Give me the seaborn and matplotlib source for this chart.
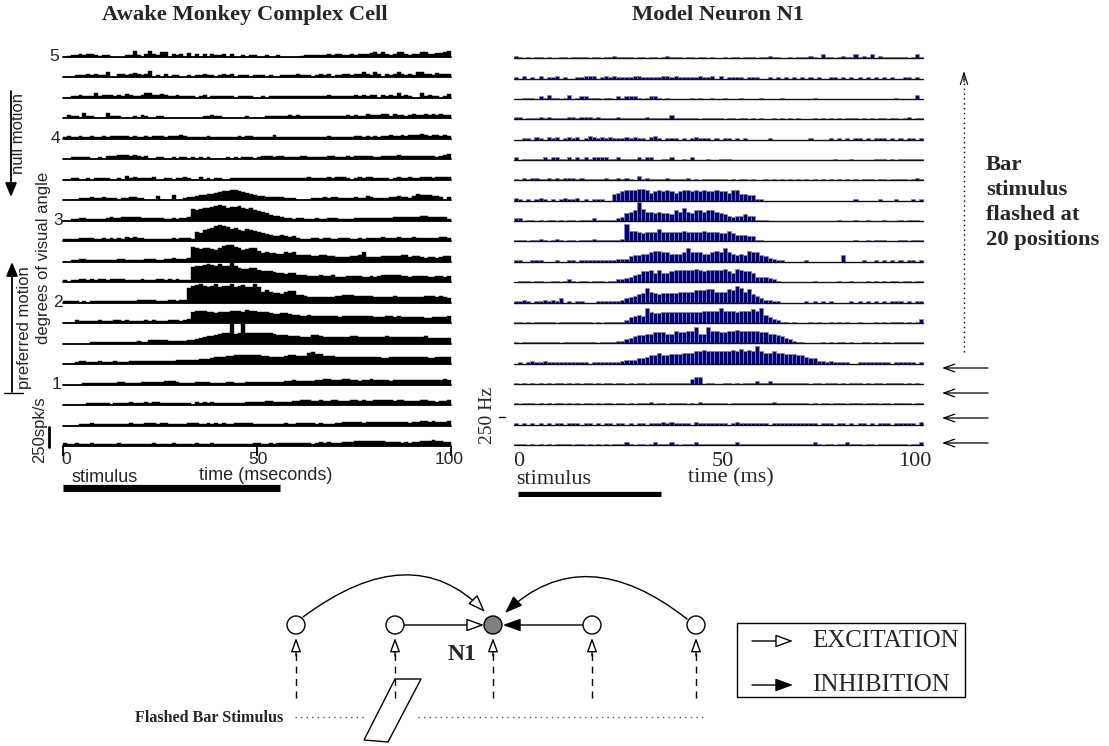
import numpy as np
import pandas as pd
import matplotlib
matplotlib.use("Agg")
import matplotlib.pyplot as plt
import seaborn as sns
from matplotlib.patches import Circle, Polygon, FancyArrowPatch, Rectangle
from matplotlib.path import Path

# ---------------- data (bar heights per 1 ms bin, base-36 digits) -------------
# Awake monkey complex cell, 20 bar positions (top = position 5 deg, bottom = 0 deg)
monkey_rows = [
    "0122323321 2200002262 0363255032 3040303032 2303002022 0020020000 0122222232 3322323334 5353235532 3355334456",
    "0002223232 2500332343 2360203022 0020223220 2323022202 2202002222 3222023230 2233233532 5303235323 2553324333",
    "0022322252 3332324322 3553343223 2222023022 2222022220 0202222222 2222222232 2222232323 3032325232 0052322024",
    "0322052200 0522200020 3200220000 0000002232 2000000200 0022222232 3222222222 2223232243 3344243323 4334343433",
    "2322322322 3233333232 2323332333 4322222322 2222232332 2222422222 2222222232 2222233232 3233433434 4454344343",
    "0022222002 0333444343 2300220020 2202020200 0020202220 2333233222 2332222233 2223233333 2233334333 3333332345",
    "0022002022 2200204232 2223002202 2320030202 2002222222 2222222222 2223222232 3332023233 2222023223 2233323333",
    "0000222322 3222022332 2000400050 0233455667 899aa98765 4433333222 0000222323 3222232243 2222334332 4655544303",
    "0022332222 2343344444 3333332232 334cbcddef gfdeefdcdb a986554332 3322232233 3222233333 3333344444 4455444442",
    "2222333322 3232324343 3222222232 333298bcdf gfecdbacba 9876556545 3222332332 2333223233 3343334333 4333333443",
    "0022332222 2222332222 2333223343 334fedeedc eghhfecdee b9a9988a9a 7777667766 5555667a55 5566666775 6654554566",
    "2022332323 3233332222 3222332323 222fgghihg iggjgeddee cbbba99899 7776667667 5556666556 5677777665 6666556656",
    "2222020222 2222222223 3333222332 33fhijhghj ghhjghiggj gbdbaa9bcc 8876666666 7788877777 6666676666 6667776765",
    "0003222223 2223323222 2323222333 234bcccbba bbbcccbdcc bbba99aa98 8778777777 7677777777 6667767666 6665566667",
    "0000000222 2222222223 2244444333 3344567889 abbkabkbbb bbbba99988 8777998777 7777887777 7778777777 7778666666",
    "0002332223 2223222333 3333333334 4444455567 7788999999 9887777899 888bcaa888 7777777777 7766777777 7777667777",
    "0000022222 2222332222 3333334443 2222333322 2233222333 3333333445 4444455665 5566554556 5555455555 5555555565",
    "0000002222 2202222322 2323322222 2220323232 2222222333 3344333334 4555445445 5444554544 5555545544 4455443445",
    "0000222322 2222222322 2333233222 2233322323 2322333332 2222222322 3333323222 3344444344 4444444443 4455454445",
    "3223222322 2222322222 2223222232 2222322232 2222222223 3223233333 3333234343 3344455555 5554444343 4455565544",
]

# Model neuron N1, 20 bar positions
model_rows = [
    "2101011010 0110111101 1011211110 1101101211 1011011010 0101101110 1121100101 1121031101 2113121302 1111110131",
    "1020102011 2010011222 0121211112 2111112212 1111121120 2011110111 0010101010 1010100110 1010101010 1010011010",
    "0011102131 1013012211 1011021222 1012210100 0001010010 0100010000 1000010000 0001000000 0000000000 0001000030",
    "2201112121 1112212221 2111121111 1121111131 1111101111 1011011010 1001010101 0001010101 0111010101 1011012011",
    "0011021021 2012120132 1212111212 1102310111 0101211101 0110101000 0010000000 0010000101 0101101011 1010101101",
    "2011111212 2112121212 2221121111 2122001120 0102000100 1110000000 0000000000 0000000010 0010000011 1010111111",
    "1021221121 2122212111 1121121210 3121111211 1120101111 1101011010 0101010101 0101010101 0101011101 1011110121",
    "2101012101 0121120101 1100567888 9986787876 7887878778 7768855441 1000000000 0000000000 0001000001 0001000101",
    "2201101011 0101101112 1111123678 e977676658 7a76887887 6543445441 1100000000 0000000001 0001001000 1000101110",
    "1110112101 2101101112 1111112d88 7677797777 7877778777 6686555441 1000000000 0000000000 0001001011 1000110111",
    "1100111000 1001101111 1111122245 5667887766 67a7776678 7a76565877 5432110000 0100000000 5000010010 1010101101",
    "0111011001 1012101101 1101122345 6889797789 9999a98999 9a87a98874 4432100000 0001000001 0010001010 1011011011",
    "1121011212 1301011000 1111112345 67b8767777 8888999aa8 88a9cb8a65 3221100000 0101010100 0010101010 1011101011",
    "1101011111 0111111110 1011111245 65b8778888 8888889999 b9998999a9 b643211010 0010100101 0100100010 1011101013",
    "1011111111 1011111111 0111122345 6677888779 8899c77c99 8899a99999 8877654321 1000010101 1010011010 1101111111",
    "0101211211 1111111101 1111112333 4456686677 788899a999 999a9b9a9d 9889887776 6544221211 1100111111 1101111101",
    "1010101010 1101010110 1011011010 1101111111 1114550110 0110101112 1121111111 1101101110 1011101011 0111101010",
    "1011101010 1101010110 1011011010 1112011011 1101021111 1101111111 1112111111 1101011011 1011101110 1101111011",
    "1010101010 1101110110 1011011010 1101112121 1110211111 1101211111 1101111111 1111011101 1010110101 1101111102",
    "1110101010 1111011010 1010111210 1101211121 0111211111 1111211111 1111111111 1112101101 1211101101 1111110112",
]

monkey_row_labels = {0: "5", 4: "4", 8: "3", 12: "2", 16: "1"}
time_ticks = [0, 50, 100]
monkey_stimulus_ms = (0, 56)
model_stimulus_ms = (1, 36)


def decode(row):
    return np.array([int(c, 36) for c in "".join(row.split())], dtype=float)


# ---------------- figure ----------------
sns.set_theme(style="white")
plt.rcParams["font.family"] = ["Liberation Sans", "DejaVu Sans"]
SERIF = ["Liberation Serif", "DejaVu Serif"]
SANS = ["Liberation Sans", "DejaVu Sans"]

W, H = 1109, 746
fig = plt.figure(figsize=(W / 100, H / 100), dpi=100)
fig.patch.set_facecolor("white")
bg = fig.add_axes([0, 0, 1, 1])
bg.set_xlim(0, W)
bg.set_ylim(H, 0)
bg.axis("off")


def px_axes(x0, y0, x1, y1):
    ax = fig.add_axes([x0 / W, 1 - y1 / H, (x1 - x0) / W, (y1 - y0) / H])
    ax.set_facecolor("none")
    return ax


def draw_rows(rows, x0, x1, y0, dy, ytop, fill, edge, lw, base_color, base_lw):
    axes = []
    for i, r in enumerate(rows):
        h = decode(r)
        n = len(h)
        width = 100.0 / n
        df = pd.DataFrame({"t": (np.arange(n) + 0.5) * width, "h": h})
        yb = y0 + dy * i
        ax = px_axes(x0, yb - dy, x1, yb)
        sns.histplot(data=df, x="t", weights="h", bins=n, binrange=(0, 100), ax=ax,
                     color=fill, edgecolor=edge, linewidth=lw, alpha=1)
        for p in ax.patches:
            p.set_clip_on(False)
        ax.axhline(0, color=base_color, lw=base_lw, zorder=3, clip_on=False)
        ax.set_xlim(0, 100)
        ax.set_ylim(0, ytop)
        ax.set_xlabel("")
        ax.set_ylabel("")
        ax.set_xticks([])
        ax.set_yticks([])
        for s in ax.spines.values():
            s.set_visible(False)
        axes.append(ax)
    return axes


# Left panel (monkey)
L_X0, L_X1, L_Y0, L_DY = 63, 451, 56.7, 20.5
lax = draw_rows(monkey_rows, L_X0, L_X1, L_Y0, L_DY, L_DY, "black", "black", 0.3, "black", 1.3)
bot = lax[-1]
bot.set_xticks(time_ticks)
bot.tick_params(axis="x", bottom=True, length=7, width=1.3, color="black",
                direction="out", labelbottom=False)

# Right panel (model)
R_X0, R_X1, R_Y0, R_DY = 514, 923, 58.3, 20.35
rax = draw_rows(model_rows, R_X0, R_X1, R_Y0, R_DY, R_DY / 1.35, "#000080", "#8a8aa0", 0.5,
                "#111111", 1.0)

# stimulus bars
sax = px_axes(L_X0, 484, L_X1, 492)
sax.hlines(0.5, *monkey_stimulus_ms, color="black", lw=5.2)
sax2 = px_axes(R_X0, 491, R_X1, 497)
sax2.hlines(0.5, *model_stimulus_ms, color="black", lw=3.8)
for a in (sax, sax2):
    a.set_xlim(0, 100)
    a.set_ylim(0, 1)
    a.axis("off")

# ---------------- texts: left panel ----------------
bg.text(245, 15, "Awake Monkey Complex Cell", family=SERIF, weight="bold", size=16.2,
        ha="center", va="center")
label_right = {0: 59, 4: 60, 8: 63, 12: 63, 16: 61}
for i, lab in monkey_row_labels.items():
    bg.text(label_right[i], L_Y0 + L_DY * i, lab, family=SANS, size=12.5, ha="right", va="center")
for t, x in zip(time_ticks, [66, 258, 449]):
    bg.text(x, 459, str(t), family=SANS, size=12.5, ha="center", va="center")
bg.text(72, 477, "stimulus", family=SANS, size=13, ha="left", va="center")
bg.text(266, 476, "time (mseconds)", family=SANS, size=13, ha="center", va="center")

bg.text(19, 133, "null motion", family=SANS, size=12, rotation=90, ha="center", va="center")
bg.annotate("", xy=(11, 197), xytext=(11, 91),
            arrowprops=dict(arrowstyle="-|>,head_length=0.6,head_width=0.25", lw=1.3,
                            color="black", mutation_scale=14, shrinkA=0, shrinkB=0))
bg.text(44, 258, "degrees of visual angle", family=SANS, size=12, rotation=90,
        ha="center", va="center")
bg.text(25, 328, "preferred motion", family=SANS, size=12, rotation=90, ha="center", va="center")
bg.annotate("", xy=(12, 262), xytext=(12, 392),
            arrowprops=dict(arrowstyle="-|>,head_length=0.6,head_width=0.25", lw=1.3,
                            color="black", mutation_scale=14, shrinkA=0, shrinkB=0))
bg.plot([4, 23], [393, 393], color="black", lw=1.0)
bg.text(40, 430, "250spk/s", family=SANS, size=12, rotation=90, ha="center", va="center")
bg.plot([49, 49], [427, 447], color="black", lw=2.0)

# ---------------- texts: right panel ----------------
bg.text(718, 15, "Model Neuron N1", family=SERIF, weight="bold", size=16.2,
        ha="center", va="center")
for t, x in zip(time_ticks, [519, 723, 915]):
    bg.text(x, 461, str(t), family=SERIF, size=16, ha="center", va="center")
bg.text(516, 480, "stimulus", family=SERIF, size=16, ha="left", va="center")
bg.text(731, 478, "time (ms)", family=SERIF, size=16, ha="center", va="center")
bg.text(488, 415, "250 Hz", family=SERIF, size=14, rotation=90, ha="center", va="center")
bg.plot([499, 505], [417, 417], color="black", lw=1.0)

bg.plot([964, 964], [352, 78], color="black", lw=1.0, ls=(0, (1, 2.5)))
bg.add_patch(FancyArrowPatch((964, 82), (964, 71), arrowstyle="->,head_length=0.7,head_width=0.22",
                             mutation_scale=12, lw=0.8, color="black", shrinkA=0, shrinkB=0))
for k, line in enumerate(["Bar", "stimulus", "flashed at", "20 positions"]):
    bg.text(986, 165 + 25 * k, line, family=SERIF, weight="bold", size=16.2, ha="left", va="center")
for y in [368, 393, 418, 443]:
    bg.add_patch(FancyArrowPatch((988, y), (942, y), arrowstyle="->,head_length=0.7,head_width=0.25",
                                 mutation_scale=11, lw=0.9, color="black", shrinkA=0, shrinkB=0))

# ---------------- bottom circuit diagram ----------------
node_x = [296, 395, 493, 592, 696]
NY = 625
for j, x in enumerate(node_x):
    bg.add_patch(Circle((x, NY), 9, facecolor="#808080" if j == 2 else "white",
                        edgecolor="black", lw=1.0, zorder=4))
    bg.plot([x, x], [698, 652], color="black", lw=1.0, ls=(0, (5, 4)))
    bg.add_patch(FancyArrowPatch((x, 656), (x, 638), arrowstyle="-|>,head_length=0.6,head_width=0.22",
                                 mutation_scale=14, lw=1.0, fc="white", ec="black",
                                 shrinkA=0, shrinkB=0))

exc = dict(arrowstyle="-|>,head_length=0.6,head_width=0.22", mutation_scale=18, lw=1.0,
           fc="white", ec="black", shrinkA=0, shrinkB=0)
inh = dict(arrowstyle="-|>,head_length=0.6,head_width=0.22", mutation_scale=18, lw=1.0,
           fc="black", ec="black", shrinkA=0, shrinkB=0)
bg.add_patch(FancyArrowPatch(path=Path([(303, 617), (412, 536), (485, 612)],
                                       [Path.MOVETO, Path.CURVE3, Path.CURVE3]), **exc))
bg.add_patch(FancyArrowPatch(path=Path([(687, 619), (584, 538), (505, 613)],
                                       [Path.MOVETO, Path.CURVE3, Path.CURVE3]), **inh))
bg.add_patch(FancyArrowPatch((404, NY), (484, NY), **exc))
bg.add_patch(FancyArrowPatch((583, NY), (503, NY), **inh))
bg.text(462, 655, "N1", family=SERIF, weight="bold", size=17, ha="center", va="center")

bg.plot([295, 367], [717, 717], color="#555555", lw=1.0, ls=(0, (1, 3)))
bg.plot([418, 704], [717, 717], color="#555555", lw=1.0, ls=(0, (1, 3)))
bg.add_patch(Polygon([(395, 679), (421, 679), (388, 742), (364, 740)], closed=True,
                     fill=False, ec="black", lw=1.0))
bg.text(135, 718, "Flashed Bar Stimulus", family=SERIF, weight="bold", size=11.6,
        ha="left", va="center")

# legend box
bg.add_patch(Rectangle((737, 623), 228, 74, fill=False, ec="black", lw=1.0))
bg.add_patch(FancyArrowPatch((752, 641), (793, 641), **exc))
bg.add_patch(FancyArrowPatch((752, 685), (793, 685), **inh))
bg.text(812, 641, "EXCITATION", family=SERIF, size=18, ha="left", va="center")
bg.text(812, 685, "INHIBITION", family=SERIF, size=18, ha="left", va="center")

fig.savefig("out.png", dpi=100, facecolor="white")
